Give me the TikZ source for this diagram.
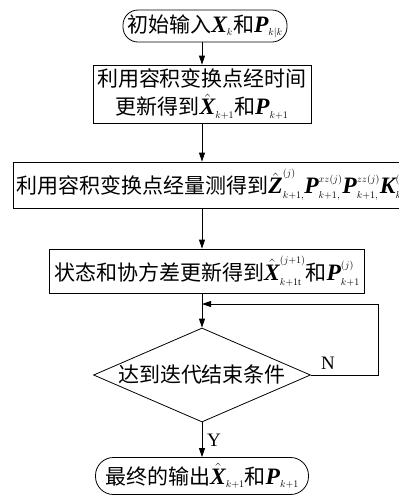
\documentclass[tikz,border=0pt]{standalone}
\usepackage{fontspec}
\usepackage{amsmath}
\setmainfont{Liberation Serif}
\newfontfamily\tms{Liberation Serif}
\newfontfamily\cjk{Noto Sans CJK SC}
\DeclareMathSizes{21}{21}{10}{7}
\usetikzlibrary{shapes.geometric,arrows.meta}
\makeatletter
\newcommand{\bi}[1]{\mbox{\tms\bfseries\itshape\fontsize{\strip@pt\dimexpr1.12\dimexpr\f@size pt\relax\relax}{0}\selectfont #1}}
\makeatother
\begin{document}
\begin{tikzpicture}[x=1pt,y=-1pt,
 every node/.style={font=\fontsize{21}{28}\selectfont},
 box/.style={draw, line width=0.8pt, inner sep=0pt, align=center},
 term/.style={box, rounded corners=15pt},
 arr/.style={-{Triangle[length=9pt,width=6pt]}, line width=0.8pt},
 lbl/.style={font=\tms\fontsize{19}{20}\selectfont}]
\useasboundingbox (0,0) rectangle (399,499);
\node[term, minimum width=164pt, minimum height=32pt] (start) at (205,26)
  {\cjk 初始输入$\bi{X}_k$和$\bi{P}_{k|k}$};
\node[box, minimum width=218pt, minimum height=58pt] (b2) at (202,94)
  {\cjk 利用容积变换点经时间\\ \cjk 更新得到$\hat{\bi{X}}_{k+1}$和$\bi{P}_{k+1}$};
\node[box, anchor=west, minimum height=46pt, inner xsep=3pt] (b3) at (13,185)
  {\cjk 利用容积变换点经量测得到$\hat{\bi{Z}}^{(j)}_{k+1,}\bi{P}^{xz(j)}_{k+1,}\bi{P}^{zz(j)}_{k+1,}\bi{K}^{(j)}_{k+1}$};
\node[box, minimum width=315pt, minimum height=44pt] (b4) at (207,271)
  {\cjk 状态和协方差更新得到$\hat{\bi{X}}^{(j+1)}_{k+1\mathrm{t}}$和$\bi{P}^{(j)}_{k+1}$};
\node[draw, diamond, line width=0.8pt, aspect=2.3, minimum width=217pt, minimum height=94pt, inner sep=0pt] (d) at (202,375)
  {\cjk 达到迭代结束条件};
\node[term, rounded corners=18pt, minimum width=213pt, minimum height=37pt] (end) at (202,476)
  {\cjk 最终的输出$\hat{\bi{X}}_{k+1}$和$\bi{P}_{k+1}$};
\coordinate (fb) at (378,304);
\node[lbl] (n) at (328,363) {N};
\node[lbl] (y) at (214,440) {Y};
\draw[arr] (start.south -| d.north) -- (b2.north -| d.north);
\draw[arr] (b2.south -| d.north) -- (b3.north -| d.north);
\draw[arr] (b3.south -| d.north) -- (b4.north -| d.north);
\draw[arr] (b4.south -| d.north) -- (d.north);
\draw[arr] (d.east) -| (fb) -- (fb -| d.north);
\draw[arr] (d.south) -- (end.north);
\end{tikzpicture}
\end{document}
